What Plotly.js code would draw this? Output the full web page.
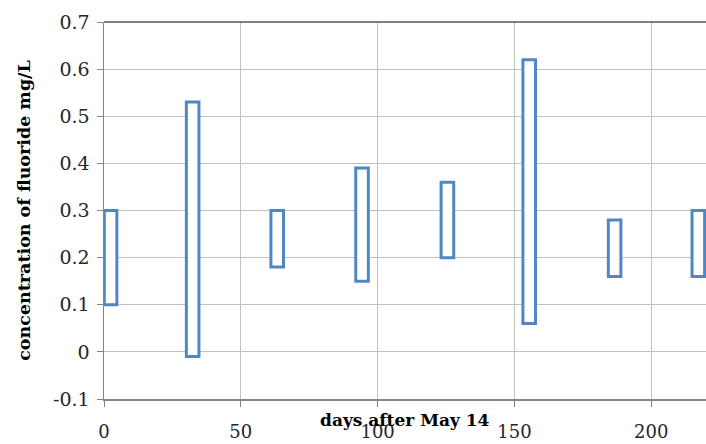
<!DOCTYPE html>
<html>
<head>
<meta charset="utf-8">
<script src="https://cdn.plot.ly/plotly-3.0.1.min.js"></script>
<style>html,body{margin:0;padding:0;background:#fff;}#chart{width:706px;height:444px;}</style>
</head>
<body>
<div id="chart"></div>
<script>
// Sampling day (days after May 14) and fluoride range (mg/L)
const days = [2.4, 32.4, 63.3, 94.3, 125.5, 155.4, 186.6, 217.2];
const low  = [0.10, -0.01, 0.18, 0.15, 0.20, 0.06, 0.16, 0.16];
const high = [0.30, 0.53, 0.30, 0.39, 0.36, 0.62, 0.28, 0.30];

const yTickVals = [-0.1, 0, 0.1, 0.2, 0.3, 0.4, 0.5, 0.6, 0.7];
const yTickText = ['-0.1', '0', '0.1', '0.2', '0.3', '0.4', '0.5', '0.6', '0.7'];
const xTickVals = [0, 50, 100, 150, 200];
const xTickText = ['0', '50', '100', '150', '200'];

const trace = {
  type: 'bar',
  x: days,
  base: low,
  y: high.map((h, i) => h - low[i]),
  width: 4.6,
  marker: { color: '#ffffff', line: { color: '#4f86c4', width: 3 } },
  hoverinfo: 'skip'
};

const layout = {
  width: 706, height: 444,
  margin: { l: 104, r: 0, t: 22, b: 45 },
  paper_bgcolor: '#ffffff', plot_bgcolor: '#ffffff',
  showlegend: false,
  xaxis: {
    range: [0, 220],
    tickvals: xTickVals, ticktext: xTickText,
    ticks: 'outside', ticklen: 6, tickcolor: '#868686', tickwidth: 1,
    showgrid: true, gridcolor: '#c0c0c0', gridwidth: 1.2,
    showline: true, linecolor: '#868686', linewidth: 1.5,
    zeroline: false,
    tickfont: { family: 'DejaVu Serif, serif', size: 18, color: '#262626' },
    ticklabelstandoff: 10
  },
  yaxis: {
    range: [-0.1, 0.7],
    tickvals: yTickVals, ticktext: yTickText,
    ticks: 'outside', ticklen: 6, tickcolor: '#868686', tickwidth: 1,
    showgrid: true, gridcolor: '#c0c0c0', gridwidth: 1.2,
    showline: true, linecolor: '#868686', linewidth: 1.5,
    zeroline: false,
    tickfont: { family: 'DejaVu Serif, serif', size: 19, color: '#262626' },
    ticklabelstandoff: 3,
    title: { text: 'concentration of fluoride mg/L', font: { family: 'DejaVu Serif, serif', size: 17.5, color: '#000', weight: 'bold' }, standoff: 18 }
  },
  shapes: [{
    type: 'line', xref: 'paper', yref: 'paper', x0: 0, x1: 1, y0: 1, y1: 1,
    line: { color: '#000000', width: 1.2 }
  }],
  annotations: [{
    text: '<b>days after May 14</b>', xref: 'paper', yref: 'paper',
    x: 0.5, y: -0.055, xanchor: 'center', yanchor: 'middle', showarrow: false,
    font: { family: 'DejaVu Serif, serif', size: 17, color: '#000' }
  }]
};

Plotly.newPlot('chart', [trace], layout, { displayModeBar: false, staticPlot: true });
</script>
</body>
</html>
